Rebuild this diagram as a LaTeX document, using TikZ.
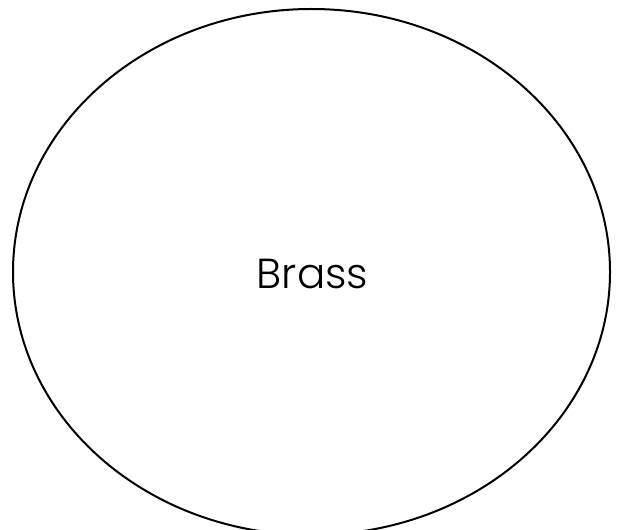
\documentclass[tikz,border=0pt]{standalone}
\usepackage{fontspec}
\setmainfont{Poppins Light}
\usetikzlibrary{shapes.geometric}
\begin{document}
\begin{tikzpicture}[x=1pt,y=1pt,
  blob/.style={draw=black,line width=2pt,ellipse,minimum width=597pt,minimum height=526pt,inner sep=0pt},
  lbl/.style={font=\fontsize{42}{46}\selectfont,inner sep=0pt,anchor=base}]
\useasboundingbox (0,0) rectangle (617,-529);
\node[blob] (brass) at (311.5,-272) {};
\node[lbl] (brasstext) at (312.5,-288) {Brass};
\end{tikzpicture}
\end{document}
